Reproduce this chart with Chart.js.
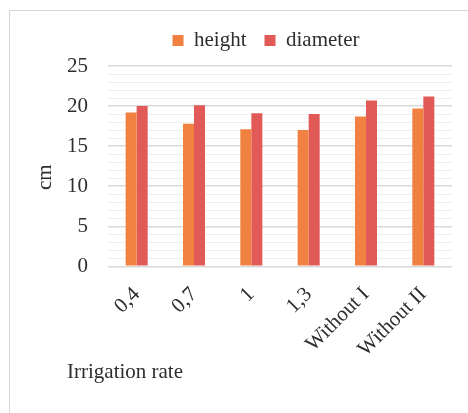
<!DOCTYPE html>
<html>
<head>
<meta charset="utf-8">
<script src="https://cdn.jsdelivr.net/npm/chart.js@4/dist/chart.umd.min.js"></script>
<style>
  html, body { margin: 0; padding: 0; background: #ffffff; }
  #wrap { position: relative; width: 468px; height: 413px; overflow: hidden; }
  #frame { position: absolute; left: 9px; top: 10px; width: 520px; height: 520px;
           border: 1px solid #d6d6d6; box-sizing: border-box; }
  #c { position: absolute; left: 0; top: 0; }
</style>
</head>
<body>
<div id="wrap">
  <div id="frame"></div>
  <canvas id="c" width="468" height="413"></canvas>
</div>
<script>
// Irrigation trial: mean seedling height and diameter per irrigation rate
const categories = ['0,4', '0,7', '1', '1,3', 'Without I', 'Without II'];
const heightValues = [19.2, 17.8, 17.1, 17.0, 18.7, 19.7];
const diameterValues = [20.0, 20.1, 19.1, 19.0, 20.7, 21.2];
const seriesNames = ['height', 'diameter'];
const yMin = 0, yMax = 25, yStep = 1, yLabelEvery = 5;

const FONT = 'Liberation Serif, "Times New Roman", serif';
const TEXT = '#2e2e2e';

// draws the vertical axis caption and nudges the legend row
const extras = {
  id: 'extras',
  afterLayout(chart) {
    const lg = chart.legend;
    if (lg) {
      lg.left -= 14; lg.right -= 14;
      lg.top -= 5; lg.bottom -= 5;
    }
  },
  afterDraw(chart) {
    const ctx = chart.ctx;
    const ys = chart.scales.y;
    ctx.save();
    ctx.fillStyle = TEXT;
    ctx.font = '21px ' + FONT;
    ctx.translate(ys.left - 22, (ys.top + ys.bottom) / 2 + 11);
    ctx.rotate(-Math.PI / 2);
    ctx.textAlign = 'center';
    ctx.textBaseline = 'middle';
    ctx.fillText('cm', 0, 0);
    ctx.restore();
  }
};

new Chart(document.getElementById('c'), {
  type: 'bar',
  data: {
    labels: categories,
    datasets: [
      { label: seriesNames[0], data: heightValues, backgroundColor: '#F08140',
        categoryPercentage: 0.384, barPercentage: 1.0 },
      { label: seriesNames[1], data: diameterValues, backgroundColor: '#E15A57',
        categoryPercentage: 0.384, barPercentage: 1.0 }
    ]
  },
  options: {
    responsive: false,
    devicePixelRatio: 1,
    animation: false,
    layout: { padding: { left: 67, right: 16, top: 17, bottom: 0 } },
    plugins: {
      legend: {
        position: 'top',
        fullSize: false,
        maxHeight: 57,
        labels: {
          boxWidth: 11, boxHeight: 11, padding: 18,
          color: TEXT,
          font: { family: FONT, size: 21 }
        }
      },
      title: {
        display: true,
        text: 'Irrigation rate',
        position: 'bottom',
        align: 'start',
        color: TEXT,
        font: { family: FONT, size: 21, weight: 'normal' },
        padding: { top: -10, bottom: 28 }
      },
      tooltip: { enabled: false }
    },
    scales: {
      x: {
        grid: { display: false },
        border: { display: false },
        ticks: {
          color: TEXT,
          font: { family: FONT, size: 21 },
          minRotation: 45, maxRotation: 45,
          autoSkip: false,
          padding: 8
        }
      },
      y: {
        min: yMin, max: yMax,
        border: { display: false },
        afterFit: (s) => { s.width -= 20; },
        grid: {
          drawTicks: false,
          color: (c) => (c.tick && c.tick.value % yLabelEvery === 0) ? '#d9d9d9' : '#efefef',
          lineWidth: (c) => (c.tick && c.tick.value % yLabelEvery === 0) ? 1.4 : 1
        },
        ticks: {
          stepSize: yStep,
          autoSkip: false,
          padding: 20,
          color: TEXT,
          font: { family: FONT, size: 21 },
          callback: (v) => (v % yLabelEvery === 0 ? String(v) : '')
        }
      }
    }
  },
  plugins: [extras]
});
</script>
</body>
</html>
